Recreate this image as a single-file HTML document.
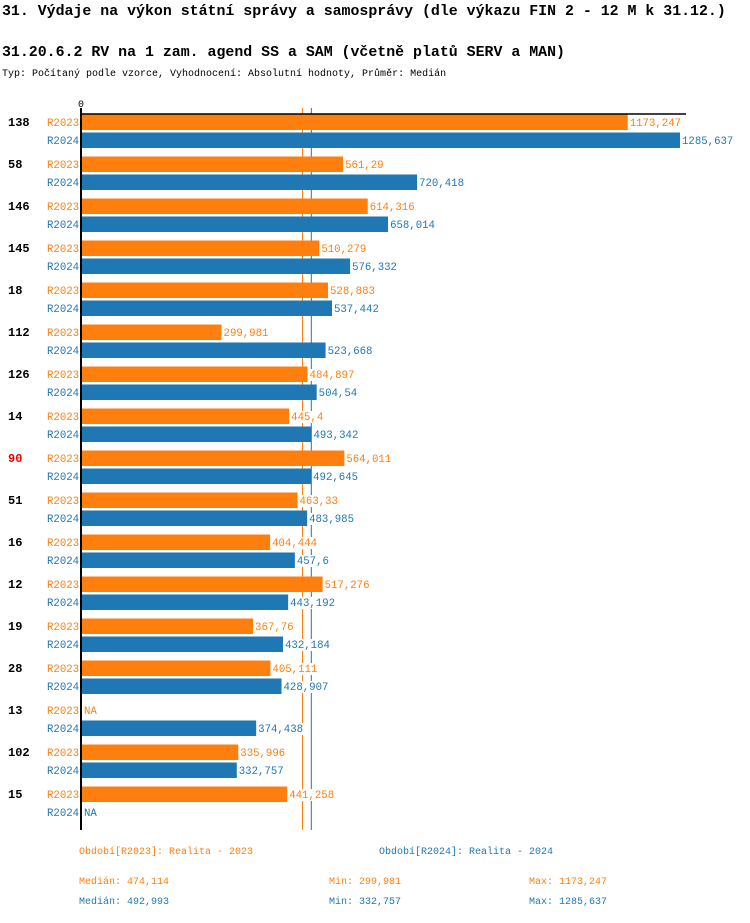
<!DOCTYPE html>
<html><head><meta charset="utf-8"><style>
body{margin:0;background:#fff;width:750px;height:918px;overflow:hidden;font-family:"Liberation Mono",monospace}
svg text{font-family:"Liberation Mono",monospace}
</style></head><body>
<svg id="chart" width="750" height="918" xmlns="http://www.w3.org/2000/svg">
<text x="2" y="15" font-size="14.9" font-weight="bold">31. Výdaje na výkon státní správy a samosprávy (dle výkazu FIN 2 - 12 M k 31.12.)</text>
<text x="2" y="56" font-size="14.9" font-weight="bold">31.20.6.2 RV na 1 zam. agend SS a SAM (včetně platů SERV a MAN)</text>
<text x="2" y="76" font-size="10">Typ: Počítaný podle vzorce, Vyhodnocení: Absolutní hodnoty, Průměr: Medián</text>
<text x="81" y="107" font-size="10" text-anchor="middle">0</text>
<g id="bars"></g>
<line x1="80" y1="114" x2="686" y2="114" stroke="#000" stroke-width="1.5"/>
<line x1="81" y1="108" x2="81" y2="830" stroke="#000" stroke-width="2"/>
<text x="79" y="854" font-size="10" fill="#ff7f0e">Období[R2023]: Realita - 2023</text>
<text x="379" y="854" font-size="10" fill="#1f77b4">Období[R2024]: Realita - 2024</text>
<text x="79" y="884" font-size="10" fill="#ff7f0e">Medián: 474,114</text>
<text x="329" y="884" font-size="10" fill="#ff7f0e">Min: 299,981</text>
<text x="529" y="884" font-size="10" fill="#ff7f0e">Max: 1173,247</text>
<text x="79" y="904" font-size="10" fill="#1f77b4">Medián: 492,993</text>
<text x="329" y="904" font-size="10" fill="#1f77b4">Min: 332,757</text>
<text x="529" y="904" font-size="10" fill="#1f77b4">Max: 1285,637</text>
</svg>
<script>
const categories=["138","58","146","145","18","112","126","14","90","51","16","12","19","28","13","102","15"];
const values2023=[1173.247,561.29,614.316,510.279,528.883,299.981,484.897,445.4,564.011,463.33,404.444,517.276,367.76,405.111,null,335.996,441.258];
const values2024=[1285.637,720.418,658.014,576.332,537.442,523.668,504.54,493.342,492.645,483.985,457.6,443.192,432.184,428.907,374.438,332.757,null];
const medians=[474.114,492.993];
const highlighted=["90"];
const NS="http://www.w3.org/2000/svg";
const X0=82,SCALE=598/1285.637;
const xs=v=>X0+v*SCALE;
const g=document.getElementById('bars');
const C=["#ff7f0e","#1f77b4"];
function mk(t,a){const e=document.createElementNS(NS,t);for(const k in a)e.setAttribute(k,a[k]);return e;}
const fmt=v=>String(v).replace('.',',');
const medG=mk('g',{});
medians.forEach((m,i)=>{
  const l=mk('line',{x1:xs(m),x2:xs(m),y1:108,y2:830,stroke:C[i],'stroke-width':1});
  
  
  medG.appendChild(l);
});
g.appendChild(medG);
categories.forEach((c,i)=>{
  const top=114+i*42;
  const ct=mk('text',{x:8,y:top+12,'font-size':12,'font-weight':'bold',fill:highlighted.includes(c)?'#e00':'#000'});
  ct.textContent=c;
  
  
  g.appendChild(ct);
  [values2023[i],values2024[i]].forEach((v,s)=>{
    const y=top+s*18;
    const lab=mk('text',{x:47,y:y+12,'font-size':10.7,fill:C[s]});
    lab.textContent=s?'R2024':'R2023';
    
    
    g.appendChild(lab);
    let end=X0;
    if(v!==null){
      const r=mk('rect',{x:X0,y:y+0.5,width:xs(v)-X0,height:15.5,fill:C[s]});
      
      
      g.appendChild(r);
      end=xs(v);
    }
    const txt=v===null?'NA':fmt(v);
    const w=txt.length*6.4+2;
    const bg=mk('rect',{x:end+1,y:y+3,width:w,height:12,fill:'#fff'});
    
    
    g.appendChild(bg);
    const vt=mk('text',{x:end+2,y:y+12,'font-size':10.7,fill:C[s]});
    vt.textContent=txt;
    
    
    g.appendChild(vt);
  });
});
</script>
</body></html>
